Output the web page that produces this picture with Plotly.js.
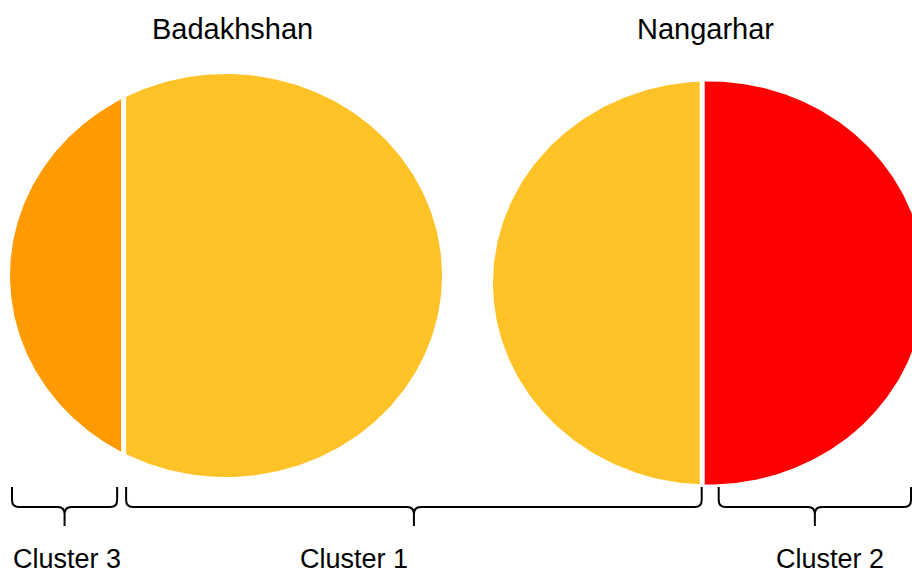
<!DOCTYPE html>
<html>
<head>
<meta charset="utf-8">
<script src="https://cdn.plot.ly/plotly-3.0.1.min.js"></script>
<style>html,body{margin:0;padding:0;background:#fff;}#chart{width:912px;height:573px;}</style>
</head>
<body>
<div id="chart"></div>
<script>
// ---- data ----
const provinces = ['Badakhshan', 'Nangarhar'];
const leftCluster = ['Cluster 3', 'Cluster 1'];
const leftShare = [21, 48];      // % of province in left segment
const rightCluster = ['Cluster 1', 'Cluster 2'];
const rightShare = [79, 52];     // % of province in right segment
const clusterLabels = ['Cluster 3', 'Cluster 1', 'Cluster 2'];

// ---- styles / layout constants ----
const clusterColors = {'Cluster 1': '#FFC328', 'Cluster 2': '#FF0000', 'Cluster 3': '#FF9A00'};
const centerX = [226, 709];
const centerY = [275.5, 283];
const radX = 216, radY = 201.5;
const gap = 5;
const titleX = [232, 705];
const FONT = '"Liberation Sans", Arial, sans-serif';

// area of unit disk left of x=u
function areaLeft(u) { return Math.PI - Math.acos(u) + u * Math.sqrt(1 - u * u); }
function chordFor(frac) {
  let lo = -1, hi = 1;
  for (let i = 0; i < 60; i++) {
    const mid = (lo + hi) / 2;
    if (areaLeft(mid) / Math.PI < frac) lo = mid; else hi = mid;
  }
  return (lo + hi) / 2;
}
function segment(cx, cy, c, side) {
  const xs = [], ys = [];
  const u = Math.max(-1, Math.min(1, (c - cx) / radX));
  const t0 = Math.acos(u);
  const N = 200;
  let a, b;
  if (side === 'left') { a = t0; b = 2 * Math.PI - t0; }
  else { a = -t0; b = t0; }
  for (let i = 0; i <= N; i++) {
    const t = a + (b - a) * i / N;
    xs.push(cx + radX * Math.cos(t));
    ys.push(cy + radY * Math.sin(t));
  }
  xs.push(xs[0]); ys.push(ys[0]);
  return {xs, ys};
}

const traces = [];
const extents = {};
provinces.forEach((p, i) => {
  const frac = leftShare[i] / (leftShare[i] + rightShare[i]);
  const u = chordFor(frac);
  const chordX = centerX[i] + u * radX;
  const L = segment(centerX[i], centerY[i], chordX - gap / 2, 'left');
  const R = segment(centerX[i], centerY[i], chordX + gap / 2, 'right');
  traces.push({type: 'scatter', mode: 'lines', x: L.xs, y: L.ys, fill: 'toself',
    fillcolor: clusterColors[leftCluster[i]], line: {width: 0, color: clusterColors[leftCluster[i]]},
    name: p + ' - ' + leftCluster[i], text: p + '<br>' + leftCluster[i] + ': ' + leftShare[i] + '%', hoverinfo: 'text', hoveron: 'fills'});
  traces.push({type: 'scatter', mode: 'lines', x: R.xs, y: R.ys, fill: 'toself',
    fillcolor: clusterColors[rightCluster[i]], line: {width: 0, color: clusterColors[rightCluster[i]]},
    name: p + ' - ' + rightCluster[i], text: p + '<br>' + rightCluster[i] + ': ' + rightShare[i] + '%', hoverinfo: 'text', hoveron: 'fills'});
  extents[p] = {left: [Math.min(...L.xs), chordX - gap / 2], right: [chordX + gap / 2, Math.max(...R.xs)]};
});

// brace spans per cluster
const spans = {
  'Cluster 3': [extents['Badakhshan'].left[0] + 2, extents['Badakhshan'].left[1] - 4],
  'Cluster 1': [extents['Badakhshan'].right[0], extents['Nangarhar'].left[1] + 2],
  'Cluster 2': [extents['Nangarhar'].right[0] + 14, Math.min(extents['Nangarhar'].right[1], 911)]
};
const labelX = {'Cluster 3': 67, 'Cluster 1': 354, 'Cluster 2': 830};

function bracePath(x0, x1) {
  const m = (x0 + x1) / 2, yT = 487, yH = 507, yB = 526, r = 7;
  return `M ${x0},${yT} L ${x0},${yH - r} Q ${x0},${yH} ${x0 + r},${yH} L ${m - r},${yH} Q ${m},${yH} ${m},${yH + r} L ${m},${yB} ` +
         `M ${m},${yH + r} Q ${m},${yH} ${m + r},${yH} L ${x1 - r},${yH} Q ${x1},${yH} ${x1},${yH - r} L ${x1},${yT}`;
}

const shapes = clusterLabels.map(c => ({type: 'path', xref: 'x', yref: 'y', path: bracePath(spans[c][0], spans[c][1]),
  line: {color: '#000', width: 2}}));

const annotations = [];
provinces.forEach((p, i) => annotations.push({x: titleX[i], y: 29, xref: 'x', yref: 'y', text: p, showarrow: false,
  xanchor: 'center', yanchor: 'middle', font: {family: FONT, size: 29, color: '#000'}}));
clusterLabels.forEach(c => annotations.push({x: labelX[c], y: 559, xref: 'x', yref: 'y', text: c, showarrow: false,
  xanchor: 'center', yanchor: 'middle', font: {family: FONT, size: 27, color: '#000'}}));

const layout = {
  width: 912, height: 573, margin: {l: 0, r: 0, t: 0, b: 0},
  paper_bgcolor: '#fff', plot_bgcolor: '#fff', showlegend: false,
  xaxis: {range: [0, 912], visible: false, fixedrange: true},
  yaxis: {range: [573, 0], visible: false, fixedrange: true},
  shapes, annotations
};
Plotly.newPlot('chart', traces, layout, {displayModeBar: false, staticPlot: false});
</script>
</body>
</html>
